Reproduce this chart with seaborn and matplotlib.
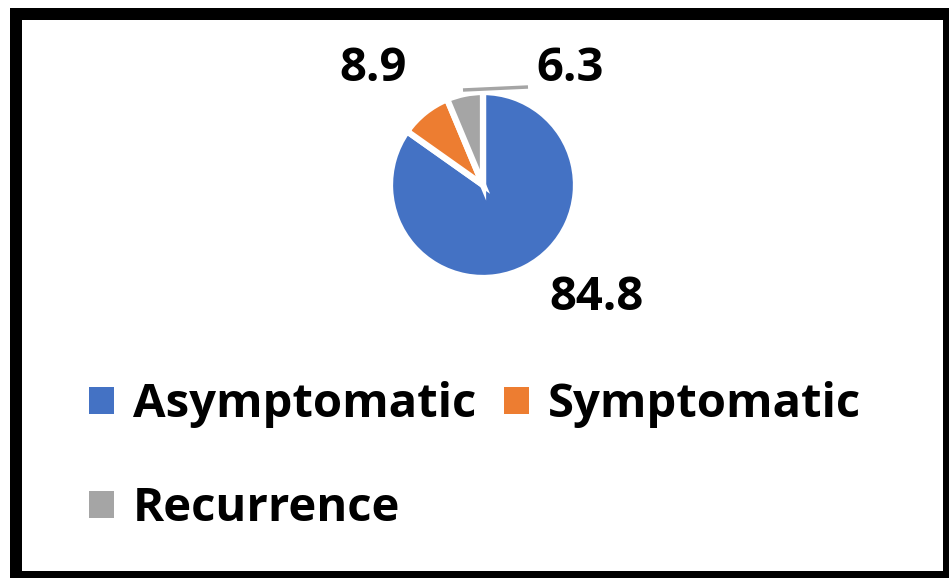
import matplotlib
matplotlib.use("Agg")
import matplotlib.pyplot as plt
import seaborn as sns
from matplotlib.patches import Rectangle, Patch

# Share of cases by clinical presentation (%)
categories = ["Asymptomatic", "Symptomatic", "Recurrence"]
percentages = [84.8, 8.9, 6.3]
colors = ["#4472C4", "#ED7D31", "#A5A5A5"]

sns.set_theme(style="white")
plt.rcParams["font.family"] = ["Open Sans", "DejaVu Sans"]

W, H = 949, 578
fig = plt.figure(figsize=(W / 100, H / 100), dpi=100)
fig.patch.set_facecolor("white")

# thick black frame around the chart area
fig.patches.append(Rectangle((10 / W, 0), 1 - 10 / W, (H - 8) / H,
                             transform=fig.transFigure, facecolor="black",
                             edgecolor="none", zorder=-2))
fig.patches.append(Rectangle((22 / W, 7 / H), (943 - 22) / W, (571 - 20) / H,
                             transform=fig.transFigure, facecolor="white",
                             edgecolor="none", zorder=-1))

# axes in pixel units so the pie keeps a round shape
ax = fig.add_axes([0, 0, 1, 1])
ax.set_facecolor("none")
cx, cy, r = 483, H - 185, 93
wedges, _ = ax.pie(percentages, colors=colors, startangle=90, counterclock=False,
                   center=(cx, cy), radius=r,
                   wedgeprops=dict(edgecolor="white", linewidth=4.5))
ax.set_xlim(0, W)
ax.set_ylim(0, H)
ax.set_axis_off()

label_fs = 34
label_pos = {"Asymptomatic": (597, H - 297.5),
             "Symptomatic": (373, H - 68.5),
             "Recurrence": (570, H - 68.5)}
for cat, val in zip(categories, percentages):
    x, y = label_pos[cat]
    ax.text(x, y, f"{val:.1f}", ha="center", va="center", fontsize=label_fs,
            fontweight="bold", color="black")

# leader line for the small recurrence slice
ax.plot([463, 528], [H - 90, H - 87], color="#A5A5A5", lw=2.5,
        solid_capstyle="butt")

# legend laid out row by row: Asymptomatic, Symptomatic / Recurrence
handles = [Patch(facecolor=c, edgecolor="none") for c in colors]
order = [0, 2, 1]
fig.legend([handles[i] for i in order], [categories[i] for i in order],
           ncol=2, loc="upper left", bbox_to_anchor=(80 / W, 1 - 372 / H),
           frameon=False, prop=dict(size=label_fs, weight="bold"),
           labelcolor="black",
           handlelength=0.52, handleheight=0.52, handletextpad=0.4,
           columnspacing=0.6, labelspacing=1.2, borderpad=0.2,
           borderaxespad=0)

fig.savefig("out.png", dpi=100, facecolor="white")
